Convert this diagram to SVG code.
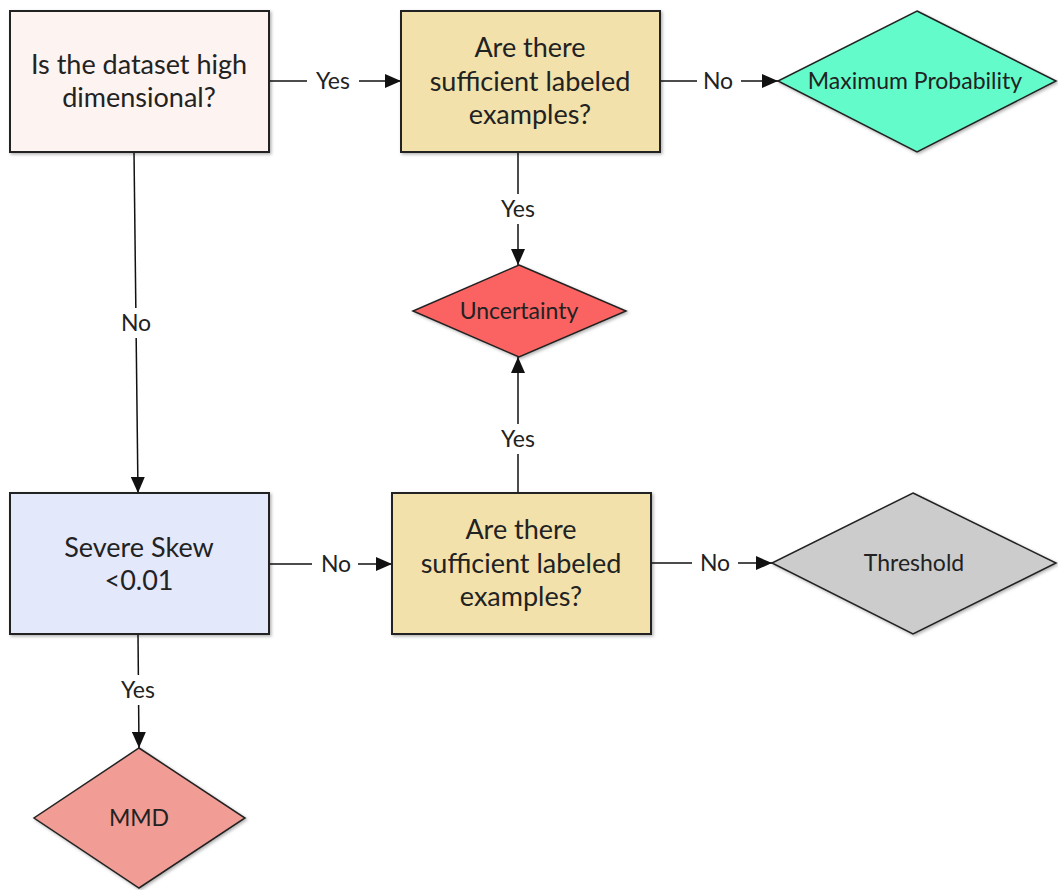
<svg xmlns="http://www.w3.org/2000/svg" width="1058" height="890" viewBox="0 0 1058 890">
<style>
.box{stroke:#222;stroke-width:2}
.dia{stroke:#222;stroke-width:1.5}
.t{font-family:"Lato","Liberation Sans",sans-serif;fill:#222;text-anchor:middle}
.nt{font-size:27px}
.dt{font-size:23px}
.lt{font-size:23px}
.conn line{stroke:#111;stroke-width:1.5}
.lbg{fill:#fff}
</style>
<defs>
<marker id="ah" viewBox="0 0 16 14" refX="16" refY="7" markerWidth="16" markerHeight="14" markerUnits="userSpaceOnUse" orient="auto">
<path d="M0,0 L16,7 L0,14 Z" fill="#111"/>
</marker>
<filter id="sh" x="-5%" y="-5%" width="112%" height="115%">
<feDropShadow dx="1.5" dy="1.5" stdDeviation="1.5" flood-color="#000" flood-opacity="0.3"/>
</filter>
</defs>
<rect width="1058" height="890" fill="#fff"/>
<g class="conn">
<line x1="269" y1="81" x2="401" y2="81" marker-end="url(#ah)"/>
<line x1="660" y1="81" x2="778" y2="81" marker-end="url(#ah)"/>
<line x1="518" y1="152" x2="518" y2="265" marker-end="url(#ah)"/>
<line x1="134" y1="152" x2="138" y2="493" marker-end="url(#ah)"/>
<line x1="269" y1="564" x2="392" y2="564" marker-end="url(#ah)"/>
<line x1="651" y1="563" x2="772" y2="563" marker-end="url(#ah)"/>
<line x1="518" y1="493" x2="518" y2="357" marker-end="url(#ah)"/>
<line x1="138" y1="634" x2="139" y2="748" marker-end="url(#ah)"/>
<rect class="lbg" x="307" y="66" width="52" height="30"/>
<text class="t lt" x="333" y="89">Yes</text>
<rect class="lbg" x="697" y="66" width="44" height="30"/>
<text class="t lt" x="718" y="89">No</text>
<rect class="lbg" x="494" y="194" width="48" height="30"/>
<text class="t lt" x="518" y="217">Yes</text>
<rect class="lbg" x="114" y="308" width="44" height="30"/>
<text class="t lt" x="136" y="331">No</text>
<rect class="lbg" x="312" y="549" width="46" height="30"/>
<text class="t lt" x="336" y="572">No</text>
<rect class="lbg" x="692" y="548" width="46" height="30"/>
<text class="t lt" x="715" y="571">No</text>
<rect class="lbg" x="494" y="424" width="48" height="30"/>
<text class="t lt" x="518" y="447">Yes</text>
<rect class="lbg" x="114" y="675" width="48" height="30"/>
<text class="t lt" x="138" y="698">Yes</text>
</g>
<g id="n1">
<rect class="box" x="10" y="11" width="259" height="141" fill="#fdf3f1" filter="url(#sh)"/>
<text class="t nt" x="139" y="74">Is the dataset high</text>
<text class="t nt" x="139" y="107">dimensional?</text>
</g>
<g id="n2">
<rect class="box" x="401" y="11" width="259" height="141" fill="#f2e1ab" filter="url(#sh)"/>
<text class="t nt" x="530" y="57">Are there</text>
<text class="t nt" x="530" y="91">sufficient labeled</text>
<text class="t nt" x="530" y="124">examples?</text>
</g>
<g id="n3">
<polygon class="dia" points="917,11 1056,81 917,152 778,81" fill="#64fbca" filter="url(#sh)"/>
<text class="t dt" x="915" y="89">Maximum Probability</text>
</g>
<g id="n4">
<polygon class="dia" points="519,265 626,311 519,357 413,311" fill="#fb6462" filter="url(#sh)"/>
<text class="t dt" x="519" y="319">Uncertainty</text>
</g>
<g id="n5">
<rect class="box" x="10" y="493" width="259" height="141" fill="#e4e8fb" filter="url(#sh)"/>
<text class="t nt" x="139" y="557">Severe Skew</text>
<text class="t nt" x="139" y="590">&lt;0.01</text>
</g>
<g id="n6">
<rect class="box" x="392" y="493" width="259" height="141" fill="#f2e1ab" filter="url(#sh)"/>
<text class="t nt" x="521" y="539">Are there</text>
<text class="t nt" x="521" y="573">sufficient labeled</text>
<text class="t nt" x="521" y="606">examples?</text>
</g>
<g id="n7">
<polygon class="dia" points="913,493 1056,563 913,634 772,563" fill="#cccccc" filter="url(#sh)"/>
<text class="t dt" x="914" y="571">Threshold</text>
</g>
<g id="n8">
<polygon class="dia" points="139,748 245,818 139,888 34,818" fill="#f19c95" filter="url(#sh)"/>
<text class="t dt" x="139" y="826">MMD</text>
</g>
</svg>
